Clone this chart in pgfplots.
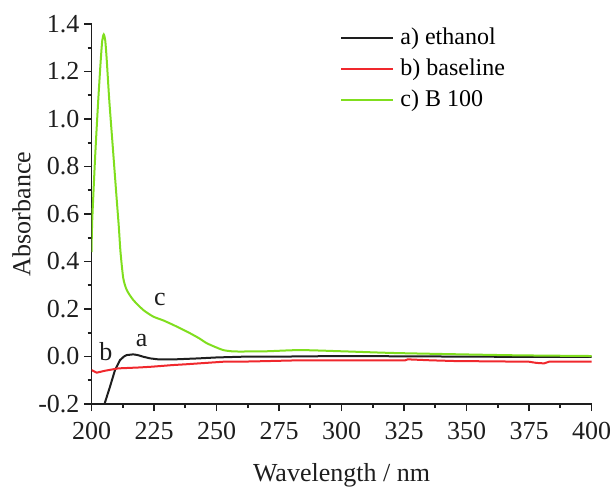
\documentclass[border=0pt]{standalone}
\usepackage{fontspec}
\setmainfont{Liberation Serif}
\usepackage{pgfplots}
\pgfplotsset{compat=1.18}
\definecolor{cblack}{RGB}{30,30,30}
\definecolor{cred}{RGB}{240,40,45}
\definecolor{cgreen}{RGB}{128,222,30}
\begin{document}
\begin{tikzpicture}
\begin{axis}[
  name=ax,
  scale only axis, width=250pt, height=190pt,
  xmin=200, xmax=400, ymin=-0.2, ymax=1.4,
  axis x line*=bottom, axis y line*=left,
  axis line style={line width=0.9pt, cblack},
  tick align=outside,
  major tick length=3.5pt, minor tick length=2pt,
  tick style={line width=0.8pt, cblack},
  xtick={200,225,250,275,300,325,350,375,400},
  minor x tick num=1,
  ytick={-0.2,0,0.2,0.4,0.6,0.8,1.0,1.2,1.4},
  yticklabels={-0.2,0.0,0.2,0.4,0.6,0.8,1.0,1.2,1.4},
  minor y tick num=1,
  /pgf/number format/assume math mode=true,
  ticklabel style={font=\fontsize{13}{15}\selectfont, text=cblack},
  xticklabel style={yshift=-2pt},
  yticklabel style={xshift=1pt},
  xlabel={Wavelength / nm}, ylabel={Absorbance},
  label style={font=\fontsize{13}{15}\selectfont, text=cblack},
  xlabel style={at={([yshift=-38.5pt]axis description cs:0.5,0)}, anchor=base},
  ylabel style={at={([xshift=-30.5pt]axis description cs:0,0.5)}, anchor=base},
  legend style={at={([yshift=-1pt]axis description cs:0.497,1)}, anchor=north west,
    draw=none, fill=none, inner sep=0pt, column sep=3pt, row sep=3.5pt,
    font=\fontsize{12}{14}\selectfont,
    nodes={inner sep=0pt, text height=9pt, text depth=3pt}},
  legend cell align=left,
  legend image code/.code={\draw[#1] (0pt,0pt) -- (26pt,0pt);},
  clip=true,
]
\addplot[cblack, line width=1pt] coordinates {
(205.2,-0.2) (207.4,-0.127) (209.4,-0.057) (211.4,-0.015) (213,0.0) (214.1,0.006)
(216.7,0.009) (218.5,0.006) (220.7,-0.001) (223.5,-0.008) (226.7,-0.012) (233.4,-0.012)
(242.7,-0.008) (250,-0.004) (260,-0.001) (280,0.0) (300,0.002) (340,0.0) (380,-0.002) (400,-0.002)
};
\addlegendentry{a) ethanol}
\addplot[cred, line width=1pt] coordinates {
(200,-0.057) (202.1,-0.068) (205.4,-0.06) (210.7,-0.05) (219.4,-0.046) (224.1,-0.043)
(232.6,-0.036) (237.4,-0.033) (252.7,-0.022) (263.4,-0.021) (283.4,-0.016) (300,-0.016)
(325.5,-0.016) (326.5,-0.012) (335.4,-0.016) (345,-0.019) (375,-0.022) (378,-0.027)
(381,-0.029) (383,-0.022) (400,-0.022)
};
\addlegendentry{b) baseline}
\addplot[cgreen, line width=1pt, smooth, tension=0.4] coordinates {
(200,0.44) (200.3,0.575) (201.5,0.85) (202.7,1.08) (203.7,1.248) (204.3,1.33) (204.9,1.356)
(205.5,1.33) (206.1,1.248) (207.1,1.08) (208.6,0.87) (210.1,0.659) (210.9,0.55) (211.6,0.44)
(212.7,0.33) (214.1,0.28) (216.7,0.238) (220.7,0.196) (224.7,0.168) (228.7,0.152)
(232.7,0.133) (236,0.116) (239.4,0.098) (243,0.077) (246.1,0.056) (249.5,0.04) (252.7,0.027)
(256,0.022) (259.4,0.021) (270,0.022) (283.4,0.027) (300,0.022) (320,0.015) (343,0.01)
(370,0.005) (400,0.002)
};
\addlegendentry{c) B 100}
\node[font=\fontsize{13}{15}\selectfont, anchor=base, text=cblack] at (axis cs:227.4,0.213) {c};
\node[font=\fontsize{13}{15}\selectfont, anchor=base, text=cblack] at (axis cs:220.1,0.041) {a};
\node[font=\fontsize{13}{15}\selectfont, anchor=base, text=cblack] at (axis cs:205.7,-0.018) {b};
\end{axis}
\pgfresetboundingbox
\useasboundingbox ([xshift=-45.75pt,yshift=-41pt]ax.south west) rectangle ([xshift=10.75pt,yshift=12pt]ax.north east);
\end{tikzpicture}
\end{document}
